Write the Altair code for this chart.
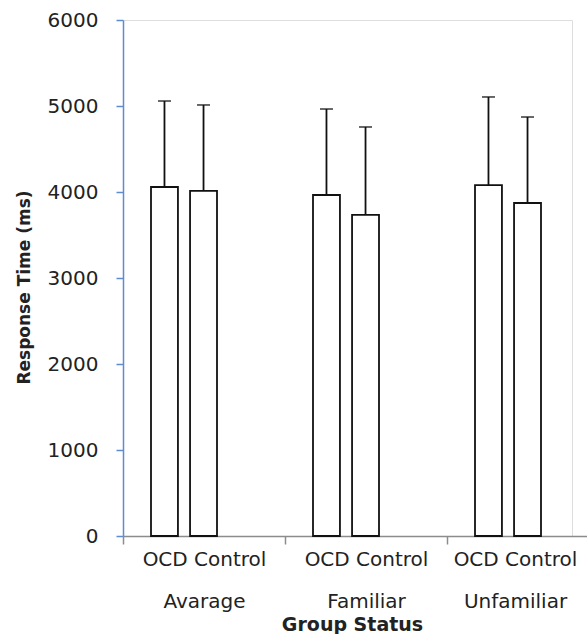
import altair as alt
import pandas as pd

groups = ["Avarage", "Familiar", "Unfamiliar"]
subgroups = ["OCD", "Control"]
means = [4058, 4012, 3965, 3733, 4081, 3872]
errors = [1000, 1000, 1000, 1023, 1024, 1000]
y_ticks = [0, 1000, 2000, 3000, 4000, 5000, 6000]

rows = []
for i, g in enumerate(groups):
    for j, s in enumerate(subgroups):
        k = i * len(subgroups) + j
        rows.append({"group": g, "sub": s, "mean": means[k], "upper": means[k] + errors[k]})
df = pd.DataFrame(rows)

FONT = "DejaVu Sans"
TEXT = "#222222"
BLUE = "#5B8DD3"
GRAY = "#8C8C8C"
sub_label = " ".join(subgroups)

x_enc = alt.X(
    "group:N",
    sort=groups,
    scale=alt.Scale(domain=groups, range=[0, 486], paddingInner=0, paddingOuter=0),
    axis=alt.Axis(
        title="Group Status",
        titleFont=FONT, titleFontSize=19, titleFontWeight="bold", titleColor=TEXT,
        titleX=229, titlePadding=4,
        labelFont=FONT, labelFontSize=20, labelColor=TEXT,
        labelExpr="isValid(datum.value) && datum.label ? ['" + sub_label + "', datum.label] : ''",
        labelLineHeight=42, labelPadding=5, labelAngle=0,
        labelOffset={"condition": {"test": "datum.value == 'Unfamiliar'", "value": -13}, "value": 0},
        domainColor=GRAY, domainWidth=1.5, tickColor=GRAY, tickWidth=1.5,
        tickSize=8, tickBand="extent", grid=False,
    ),
)
xoff_enc = alt.XOffset(
    "sub:N",
    sort=subgroups,
    scale=alt.Scale(domain=subgroups, range=[28, 94], paddingInner=0.31, paddingOuter=0),
)
y_scale = alt.Scale(domain=[0, 6000], nice=False)
y_axis = alt.Axis(
    values=y_ticks, format="d", title="Response Time (ms)",
    titleFont=FONT, titleFontSize=17, titleFontWeight="bold", titleColor=TEXT,
    titlePadding=14, titleY=267,
    labelFont=FONT, labelFontSize=20, labelColor=TEXT, labelPadding=18,
    domainColor=BLUE, domainWidth=1.5, tickColor=BLUE, tickWidth=1.5, tickSize=7,
    grid=False,
)

bars = alt.Chart(df).mark_bar(fill="white", stroke="#111111", strokeWidth=1.8).encode(
    x=x_enc, xOffset=xoff_enc,
    y=alt.Y("mean:Q", scale=y_scale, axis=y_axis),
)
stems = alt.Chart(df).mark_rule(color="#111111", strokeWidth=1.8).encode(
    x=x_enc, xOffset=xoff_enc,
    y=alt.Y("mean:Q", scale=y_scale, axis=y_axis), y2="upper:Q",
)
caps = alt.Chart(df).mark_tick(color="#111111", thickness=1.8, size=13, orient="horizontal").encode(
    x=x_enc, xOffset=xoff_enc,
    y=alt.Y("upper:Q", scale=y_scale, axis=y_axis),
)

chart = (
    alt.layer(bars, stems, caps)
    .properties(
        width=449, height=516,
        autosize=alt.AutoSizeParams(type="none"),
        padding={"left": 123, "top": 20, "right": 15, "bottom": 98},
    )
    .configure_view(stroke=None)
    .configure(background="white")
)

chart.save("out.html", embed_options={"renderer": "svg", "actions": False})
